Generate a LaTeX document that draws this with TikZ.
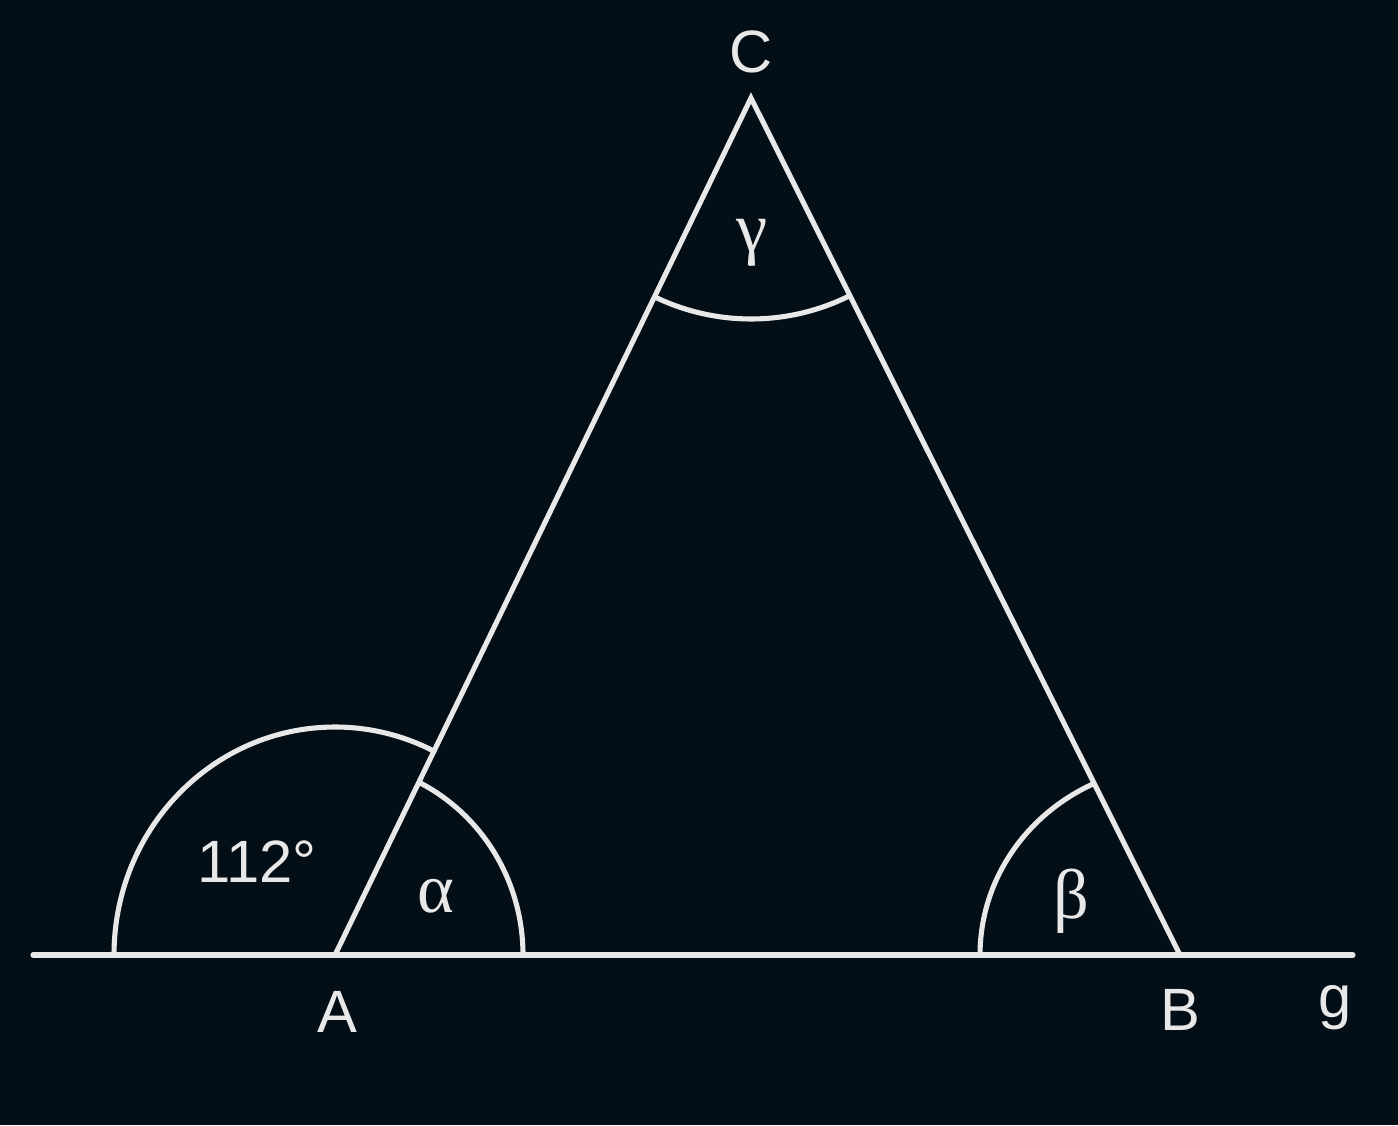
\documentclass[tikz,border=0pt]{standalone}
\usepackage{fontspec}
\setmainfont{Liberation Sans}
\newfontfamily\greekfont{Liberation Serif}
\usetikzlibrary{positioning}
\usetikzlibrary{calc}
\definecolor{boardbg}{RGB}{3,14,22}
\definecolor{chalk}{RGB}{232,232,232}
\tikzset{
  % Common styles for the figure
  line/.style={draw=chalk, line width=1.45pt},
  vertex/.style={text=chalk, inner sep=0pt, font=\fontsize{17}{20}\selectfont},
  anglelabel/.style={text=chalk, inner sep=0pt, font=\greekfont\fontsize{20}{24}\selectfont}
}

\begin{document}
\begin{tikzpicture}
    % Background
    \fill[boardbg] (0,0) rectangle (13.98,11.25);
    \useasboundingbox (0,0) rectangle (13.98,11.25);

    % Place points
    \coordinate (A) at (3.35,1.70);
    \coordinate (B) at (11.80,1.70);
    \coordinate (C) at (7.51,10.27);
    \coordinate (gleft) at (0.33,1.70);
    \coordinate (gright) at (13.53,1.70);

    % Draw edges
    \path [line, line cap=round] (gleft) -- (gright);
    \path [line, line join=miter] (A) -- (C) -- (B);

    % Angle arcs
    \path [line] ($(A)+(-2.21,0)$) arc[start angle=180, end angle=63.4, x radius=2.21, y radius=2.28];
    \path [line] ($(A)+(1.88,0)$) arc[start angle=0, end angle=63.1, x radius=1.88, y radius=1.93];
    \path [line] ($(B)+(-2.00,0)$) arc[start angle=180, end angle=115.4, x radius=2.00, y radius=1.90];
    \path [line] ($(C)+(244.1:2.21)$) arc[start angle=244.1, end angle=296.6, radius=2.21];

    % Labels
    \node [vertex, anchor=base] (labA) at (3.37,0.93) {A};
    \node [vertex, anchor=base] (labB) at (11.80,0.95) {B};
    \node [vertex, anchor=base] (labC) at (7.51,10.52) {C};
    \node [vertex, anchor=base] (labg) at (13.35,1.08) {g};
    \node [vertex, anchor=base] (ext) at (2.57,2.43) {112°};
    \node [anglelabel] (alpha) at (4.36,2.29) {α};
    \node [anglelabel] (beta) at (10.71,2.24) {β};
    \node [anglelabel] (gamma) at (7.52,8.82) {γ};
\end{tikzpicture}
\end{document}
